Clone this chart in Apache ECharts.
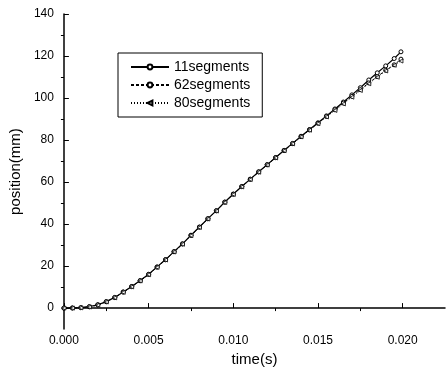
<!DOCTYPE html>
<html>
<head>
<meta charset="utf-8">
<script src="https://cdn.jsdelivr.net/npm/echarts@6/dist/echarts.min.js"></script>
<style>
  html, body {margin: 0; padding: 0; background: #fff;}
  #chart {width: 447px; height: 372px;}
</style>
</head>
<body>
<div id="chart"></div>
<script>
// time (s), one sample every 0.5 ms
const times = [0, 0.0005, 0.001, 0.0015, 0.002, 0.0025, 0.003, 0.0035, 0.004, 0.0045,
  0.005, 0.0055, 0.006, 0.0065, 0.007, 0.0075, 0.008, 0.0085, 0.009, 0.0095,
  0.010, 0.0105, 0.011, 0.0115, 0.012, 0.0125, 0.013, 0.0135, 0.014, 0.0145,
  0.015, 0.0155, 0.016, 0.0165, 0.017, 0.0175, 0.018, 0.0185, 0.019, 0.0195, 0.0199]

// position (mm)
const seg11 = [0, 0.1, 0.2, 0.7, 1.6, 3.1, 5.1, 7.7, 10.3, 13.1,
  16.1, 19.6, 23.1, 26.9, 30.6, 34.7, 38.6, 42.6, 46.4, 50.5,
  54.3, 57.9, 61.4, 64.9, 68.3, 71.7, 75.1, 78.4, 81.8, 85.0,
  88.2, 91.5, 94.8, 98.1, 101.5, 104.9, 108.6, 112.0, 115.3, 118.8, 122.0]
const seg62 = [0, 0, 0.2, 0.6, 1.5, 3.0, 5.0, 7.6, 10.2, 13.0,
  16.0, 19.5, 23.0, 26.8, 30.5, 34.6, 38.5, 42.5, 46.3, 50.4,
  54.2, 57.8, 61.3, 64.8, 68.2, 71.6, 75.0, 78.3, 81.6, 84.8,
  88.0, 91.2, 94.4, 97.6, 100.8, 104.0, 107.2, 110.2, 113.2, 115.8, 118.5]
const seg80 = [0, 0, 0.1, 0.5, 1.4, 2.9, 4.9, 7.5, 10.1, 12.9,
  15.9, 19.4, 22.9, 26.7, 30.4, 34.5, 38.4, 42.4, 46.2, 50.3,
  54.1, 57.7, 61.2, 64.7, 68.1, 71.5, 74.9, 78.2, 81.5, 84.7,
  87.8, 91.0, 94.1, 97.2, 100.4, 103.6, 106.8, 109.9, 112.9, 115.6, 117.6]

const xMajor = [0, 0.005, 0.010, 0.015, 0.020]
const xMinor = [0.0025, 0.0075, 0.0125, 0.0175]
const yMajor = [0, 20, 40, 60, 80, 100, 120, 140]
const yMinor = [10, 30, 50, 70, 90, 110, 130]

const pairs = (vals) => times.map((t, i) => [t, vals[i]])
const font = 'Liberation Sans'

const chart = echarts.init(document.getElementById('chart'))

const baseX = {
  type: 'value', min: 0, max: 0.0225, gridIndex: 0,
  splitLine: {show: false}
}
const baseY = {
  type: 'value', min: -10, max: 140, gridIndex: 0,
  splitLine: {show: false}
}

const option = {
  animation: false,
  backgroundColor: '#fff',
  grid: {left: 60, right: 2, top: 14, bottom: 41, containLabel: false},
  legend: {
    orient: 'vertical',
    left: 118, top: 53,
    padding: [7, 12, 7, 12],
    itemGap: 4,
    itemWidth: 38, itemHeight: 6,
    borderColor: '#000', borderWidth: 1,
    textStyle: {fontFamily: font, fontSize: 14, lineHeight: 14, color: '#000'},
    data: ['11segments', '62segments', '80segments']
  },
  xAxis: [
    Object.assign({}, baseX, {
      name: 'time(s)', nameLocation: 'middle', nameGap: 20,
      nameTextStyle: {fontFamily: font, fontSize: 15, color: '#000'},
      axisLine: {show: true, lineStyle: {color: '#000', width: 1.5}},
      axisTick: {show: true, inside: true, length: 5, customValues: xMajor, lineStyle: {color: '#000'}},
      axisLabel: {fontFamily: font, fontSize: 12, color: '#000', margin: 6,
        customValues: xMajor, formatter: (v) => v.toFixed(3)}
    }),
    Object.assign({}, baseX, {
      axisLine: {show: false},
      axisTick: {show: true, inside: true, length: 3, customValues: xMinor, lineStyle: {color: '#000'}},
      axisLabel: {show: false}
    })
  ],
  yAxis: [
    Object.assign({}, baseY, {
      name: 'position(mm)', nameLocation: 'middle', nameGap: 31,
      nameTextStyle: {fontFamily: font, fontSize: 15, color: '#000'},
      axisLine: {show: true, lineStyle: {color: '#000', width: 1.5}},
      axisTick: {show: true, inside: true, length: 5, customValues: yMajor, lineStyle: {color: '#000'}},
      axisLabel: {fontFamily: font, fontSize: 12, color: '#000', margin: 10, customValues: yMajor}
    }),
    Object.assign({}, baseY, {
      axisLine: {show: false},
      axisTick: {show: true, inside: true, length: 3, customValues: yMinor, lineStyle: {color: '#000'}},
      axisLabel: {show: false}
    })
  ],
  series: [
    {
      name: '11segments', type: 'line', data: pairs(seg11),
      symbol: 'circle', symbolSize: 4,
      lineStyle: {color: '#000', width: 1.2},
      itemStyle: {color: '#fff', borderColor: '#000', borderWidth: 1}
    },
    {
      name: '62segments', type: 'line', data: pairs(seg62),
      symbol: 'circle', symbolSize: 4,
      lineStyle: {color: '#000', width: 1, type: [3, 2]},
      itemStyle: {color: '#fff', borderColor: '#000', borderWidth: 1}
    },
    {
      name: '80segments', type: 'line', data: pairs(seg80),
      symbol: 'triangle', symbolSize: 4, symbolRotate: 90,
      lineStyle: {color: '#000', width: 0.8, type: [1, 2]},
      itemStyle: {color: '#fff', borderColor: '#000', borderWidth: 0.8}
    }
  ]
}

chart.setOption(option)
</script>
</body>
</html>
